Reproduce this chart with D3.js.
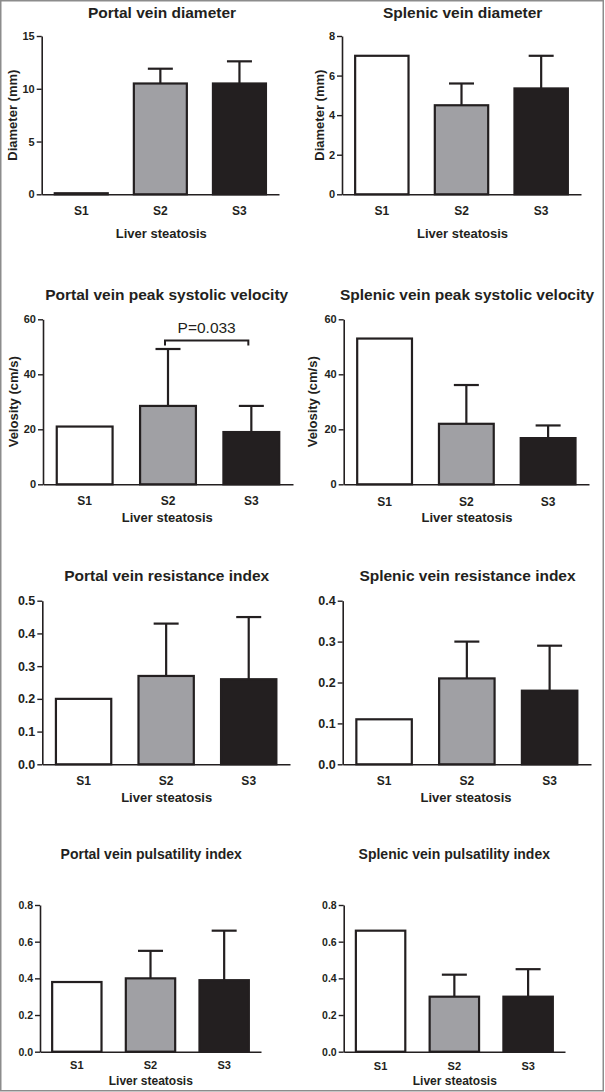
<!DOCTYPE html>
<html><head><meta charset="utf-8">
<script src="https://cdn.jsdelivr.net/npm/d3@7"></script>
<style>
html,body{margin:0;padding:0;background:#fff;}
svg{display:block;font-family:"Liberation Sans",Arial,sans-serif;}
</style></head>
<body>
<svg id="chart" width="605" height="1092"></svg>
<script>
// ---------- DATA ----------
const categories = ["S1", "S2", "S3"];
const xAxisTitle = "Liver steatosis";

const titles = [
  "Portal vein diameter", "Splenic vein diameter",
  "Portal vein peak systolic velocity", "Splenic vein peak systolic velocity",
  "Portal vein resistance index", "Splenic vein resistance index",
  "Portal vein pulsatility index", "Splenic vein pulsatility index"
];
const yTitles = ["Diameter (mm)", "Diameter (mm)", "Velosity (cm/s)", "Velosity (cm/s)", "", "", "", ""];

// means and SD (upper error bar only)
const portalDiameterMean = [0.1, 10.5, 10.5];
const portalDiameterSD   = [0, 1.4, 2.1];
const splenicDiameterMean = [7.0, 4.5, 5.35];
const splenicDiameterSD   = [0, 1.1, 1.65];
const portalPSVMean = [21, 28.5, 19];
const portalPSVSD   = [0, 20.7, 9.5];
const splenicPSVMean = [53, 22, 16.8];
const splenicPSVSD   = [0, 14.1, 4.6];
const portalRIMean = [0.20, 0.27, 0.26];
const portalRISD   = [0, 0.16, 0.19];
const splenicRIMean = [0.11, 0.21, 0.18];
const splenicRISD   = [0, 0.09, 0.11];
const portalPIMean = [0.38, 0.40, 0.39];
const portalPISD   = [0, 0.15, 0.27];
const splenicPIMean = [0.66, 0.30, 0.30];
const splenicPISD   = [0, 0.12, 0.15];

const ticksPortalDiameter = [0, 5, 10, 15];
const ticksSplenicDiameter = [0, 2, 4, 6, 8];
const ticksVelocity = [0, 20, 40, 60];
const ticksPortalRI = [0.0, 0.1, 0.2, 0.3, 0.4, 0.5];
const ticksSplenicRI = [0.0, 0.1, 0.2, 0.3, 0.4];
const ticksPI = [0.0, 0.2, 0.4, 0.6, 0.8];

// significance annotation (panel 3): between S2 and S3
const sigPair = ["S2", "S3"];
const sigLevel = 52.3;
const sigText = "P=0.033";

// ---------- LAYOUT ----------
const fillColors = ["#ffffff", "#a0a0a4", "#231f20"];
const ink = "#231f20";

const panels = [
  {mean: portalDiameterMean, sd: portalDiameterSD, ticks: ticksPortalDiameter, fmt: d3.format("d"),
   ax: 41.7, ae: 279, yt: 36, yb: 194.3, tX: 162, tY: 18, tF: 15.5, tickF: 11,
   xlY: 215, xlF: 12, xtX: 161.3, xtY: 238.3, xtF: 13, ytX: 12},
  {mean: splenicDiameterMean, sd: splenicDiameterSD, ticks: ticksSplenicDiameter, fmt: d3.format("d"),
   ax: 342, ae: 581, yt: 36, yb: 194.3, tX: 462.7, tY: 18, tF: 15.5, tickF: 11,
   xlY: 215, xlF: 12, xtX: 462.5, xtY: 238.3, xtF: 13, ytX: 319},
  {mean: portalPSVMean, sd: portalPSVSD, ticks: ticksVelocity, fmt: d3.format("d"),
   ax: 43, ae: 293, yt: 319.3, yb: 484.3, tX: 166.7, tY: 299.5, tF: 15.5, tickF: 11,
   xlY: 505, xlF: 12, xtX: 167.3, xtY: 522.3, xtF: 13, ytX: 13, sig: true},
  {mean: splenicPSVMean, sd: splenicPSVSD, ticks: ticksVelocity, fmt: d3.format("d"),
   ax: 343.7, ae: 589, yt: 319.3, yb: 484.3, tX: 467, tY: 299.5, tF: 15.5, tickF: 11,
   xlY: 506, xlF: 12, xtX: 467, xtY: 522.3, xtF: 13, ytX: 312},
  {mean: portalRIMean, sd: portalRISD, ticks: ticksPortalRI, fmt: d3.format(".1f"),
   ax: 42.3, ae: 290, yt: 600.7, yb: 764.3, tX: 166.7, tY: 580.7, tF: 15.5, tickF: 12.5,
   xlY: 785, xlF: 12, xtX: 166.7, xtY: 802, xtF: 13},
  {mean: splenicRIMean, sd: splenicRISD, ticks: ticksSplenicRI, fmt: d3.format(".1f"),
   ax: 342.7, ae: 591, yt: 600.7, yb: 764.3, tX: 467.5, tY: 580.7, tF: 15.5, tickF: 12.5,
   xlY: 785, xlF: 12, xtX: 466, xtY: 802, xtF: 13},
  {mean: portalPIMean, sd: portalPISD, ticks: ticksPI, fmt: d3.format(".1f"),
   ax: 40, ae: 261, yt: 905, yb: 1051.7, tX: 151.2, tY: 859.3, tF: 14, tickF: 10.5,
   xlY: 1069.5, xlF: 11, xtX: 150.8, xtY: 1085, xtF: 12},
  {mean: splenicPIMean, sd: splenicPISD, ticks: ticksPI, fmt: d3.format(".1f"),
   ax: 343.7, ae: 565, yt: 905, yb: 1051.7, tX: 454.3, tY: 859.3, tF: 14, tickF: 10.5,
   xlY: 1070, xlF: 11, xtX: 454.8, xtY: 1085, xtF: 12}
];

const svg = d3.select("#chart");

// outer frame
svg.append("rect").attr("x", 0.75).attr("y", 0.75).attr("width", 602.5).attr("height", 1090)
  .attr("fill", "none").attr("stroke", "#8c8c8c").attr("stroke-width", 1.5);

panels.forEach((p, i) => {
  const g = svg.append("g");
  const x = d3.scaleBand().domain(categories).range([p.ax, p.ae])
    .paddingInner(0.33).paddingOuter(0.165);
  const y = d3.scaleLinear().domain([p.ticks[0], p.ticks[p.ticks.length - 1]]).range([p.yb, p.yt]);

  const rows = categories.map((c, k) => ({c, m: p.mean[k], s: p.sd[k], f: fillColors[k]}));

  // error bars (behind bars)
  const eb = g.append("g").attr("stroke", ink).attr("stroke-width", 2.2).attr("fill", "none");
  rows.filter(r => r.s > 0).forEach(r => {
    const cx = x(r.c) + x.bandwidth() / 2;
    eb.append("line").attr("x1", cx).attr("x2", cx).attr("y1", y(r.m)).attr("y2", y(r.m + r.s));
    eb.append("line").attr("x1", cx - 12.5).attr("x2", cx + 12.5).attr("y1", y(r.m + r.s)).attr("y2", y(r.m + r.s));
  });

  // bars
  g.append("g").selectAll("rect").data(rows).join("rect")
    .attr("x", r => x(r.c)).attr("width", x.bandwidth())
    .attr("y", r => y(r.m)).attr("height", r => y(0) - y(r.m))
    .attr("fill", r => r.f).attr("stroke", ink).attr("stroke-width", 2.2);

  // y axis
  const yAxis = d3.axisLeft(y).tickValues(p.ticks).tickFormat(p.fmt).tickSizeInner(5).tickSizeOuter(0).tickPadding(2);
  const ya = g.append("g").attr("transform", `translate(${p.ax},0)`).call(yAxis);
  ya.select(".domain").attr("stroke", ink).attr("stroke-width", 1.6);
  ya.selectAll(".tick line").attr("stroke", ink).attr("stroke-width", 1.4);
  ya.selectAll(".tick text").attr("fill", ink).attr("font-size", p.tickF).attr("font-weight", "bold")
    .attr("font-family", "Liberation Sans, Arial, sans-serif");

  // x axis
  const xAxis = d3.axisBottom(x).tickSize(0).tickPadding(0);
  const xa = g.append("g").attr("transform", `translate(0,${p.yb})`).call(xAxis);
  xa.select(".domain").attr("stroke", ink).attr("stroke-width", 1.6);
  xa.selectAll(".tick text").attr("fill", ink).attr("font-size", p.xlF).attr("font-weight", "bold")
    .attr("font-family", "Liberation Sans, Arial, sans-serif")
    .attr("dy", null).attr("y", p.xlY - p.yb);

  // title
  g.append("text").attr("x", p.tX).attr("y", p.tY).attr("text-anchor", "middle")
    .attr("font-size", p.tF).attr("font-weight", "bold").attr("fill", ink).text(titles[i]);

  // x axis title
  g.append("text").attr("x", p.xtX).attr("y", p.xtY).attr("text-anchor", "middle")
    .attr("font-size", p.xtF).attr("font-weight", "bold").attr("fill", ink).text(xAxisTitle);

  // y axis title
  if (yTitles[i]) {
    const cy = (p.yt + p.yb) / 2;
    g.append("text").attr("transform", `translate(${p.ytX},${cy}) rotate(-90)`)
      .attr("text-anchor", "middle").attr("dominant-baseline", "central")
      .attr("font-size", 13).attr("font-weight", "bold").attr("fill", ink).text(yTitles[i]);
  }

  // significance bracket
  if (p.sig) {
    const x1 = x(sigPair[0]) + x.bandwidth() / 2 - 3;
    const x2 = x(sigPair[1]) + x.bandwidth() / 2 - 3;
    const yy = y(sigLevel);
    g.append("path").attr("d", `M${x1},${yy + 5}V${yy}H${x2}V${yy + 5}`)
      .attr("fill", "none").attr("stroke", ink).attr("stroke-width", 2);
    g.append("text").attr("x", (x1 + x2) / 2).attr("y", yy - 7.5).attr("text-anchor", "middle")
      .attr("font-size", 15.5).attr("fill", ink).text(sigText);
  }
});
</script>
</body></html>
